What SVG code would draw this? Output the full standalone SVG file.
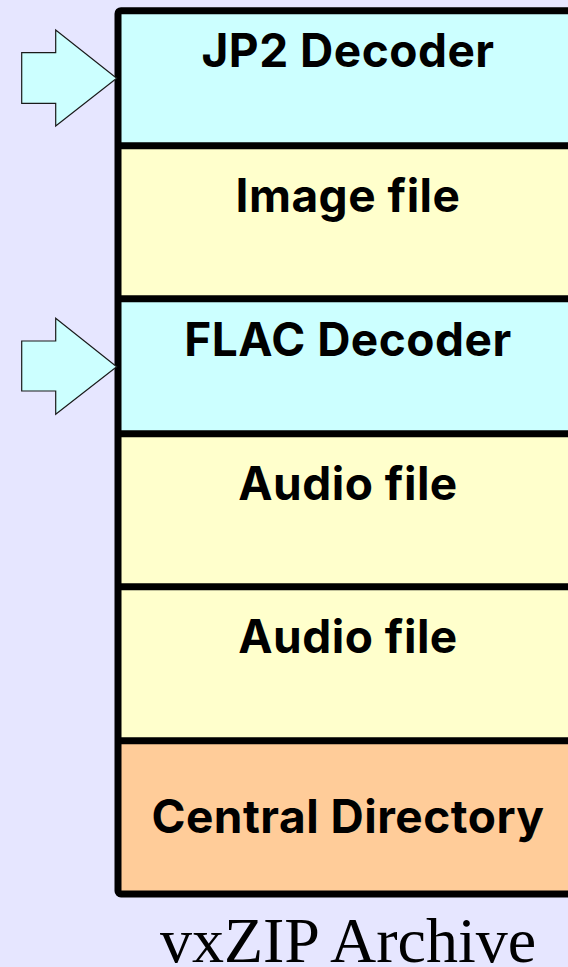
<svg xmlns="http://www.w3.org/2000/svg" width="568" height="967" viewBox="0 0 568 967">
  <style>
    .blk { stroke: #000; stroke-width: 7; fill: none; }
    .dec { fill: #ccffff; }
    .file { fill: #ffffcc; }
    .dir { fill: #ffcc99; }
    .lbl { font-family: Inter, "Noto Sans", sans-serif; font-weight: bold; font-size: 46px; letter-spacing: 0.5px; fill: #000; text-anchor: middle; }
    .arrow { fill: #ccffff; stroke: #1a1a1a; stroke-width: 1.2; stroke-linejoin: miter; }
    .title { font-family: "Liberation Serif", "Times New Roman", serif; font-size: 64px; fill: #000; text-anchor: middle; }
  </style>
  <rect x="0" y="0" width="568" height="967" fill="#e6e6ff"/>

  <!-- archive segments, top to bottom -->
  <g id="jp2-decoder">
    <rect class="dec" x="118" y="10.7" width="460" height="135"/>
    <text class="lbl" x="348" y="66.7">JP2 Decoder</text>
  </g>
  <g id="image-file">
    <rect class="file" x="118" y="145.7" width="460" height="153"/>
    <text class="lbl" x="348" y="211.7">Image file</text>
  </g>
  <g id="flac-decoder">
    <rect class="dec" x="118" y="298.7" width="460" height="135"/>
    <text class="lbl" x="348" y="355.7">FLAC Decoder</text>
  </g>
  <g id="audio-file-1">
    <rect class="file" x="118" y="433.7" width="460" height="153"/>
    <text class="lbl" x="348" y="499.7">Audio file</text>
  </g>
  <g id="audio-file-2">
    <rect class="file" x="118" y="586.7" width="460" height="154"/>
    <text class="lbl" x="348" y="652.7">Audio file</text>
  </g>
  <g id="central-directory">
    <rect class="dir" x="118" y="740.7" width="460" height="153"/>
    <text class="lbl" x="348" y="833">Central Directory</text>
  </g>

  <!-- segment borders -->
  <g id="borders">
    <rect class="blk" x="118" y="10.7" width="460" height="883.3" rx="3"/>
    <line class="blk" x1="118" y1="145.7" x2="578" y2="145.7"/>
    <line class="blk" x1="118" y1="298.7" x2="578" y2="298.7"/>
    <line class="blk" x1="118" y1="433.7" x2="578" y2="433.7"/>
    <line class="blk" x1="118" y1="586.7" x2="578" y2="586.7"/>
    <line class="blk" x1="118" y1="740.7" x2="578" y2="740.7"/>
  </g>

  <!-- entry-point arrows -->
  <g id="connectors">
    <polygon class="arrow" points="21.7,52.7 55.7,52.7 55.7,30 116.7,78.3 55.7,126 55.7,103.3 21.7,103.3"/>
    <polygon class="arrow" points="21.7,341 55.7,341 55.7,318.3 116.7,366.7 55.7,414.3 55.7,391 21.7,391"/>
  </g>

  <g id="caption">
    <text class="title" x="348" y="962">vxZIP Archive</text>
  </g>
</svg>
